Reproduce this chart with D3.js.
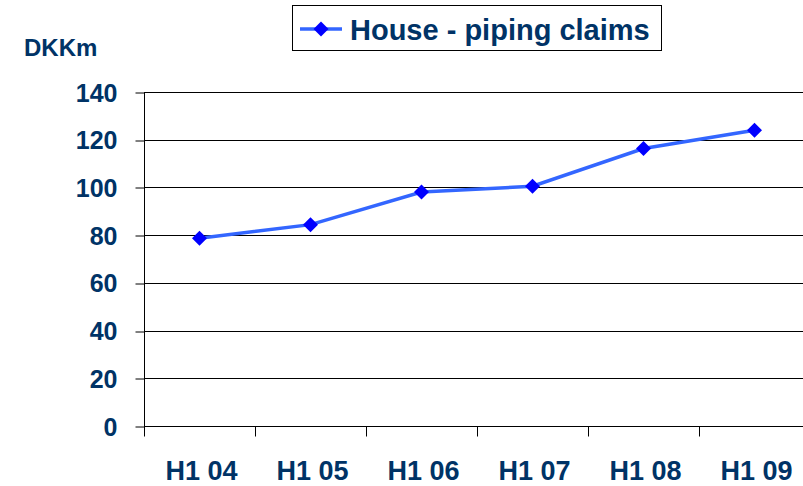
<!DOCTYPE html>
<html>
<head>
<meta charset="utf-8">
<script src="https://cdn.jsdelivr.net/npm/d3@7"></script>
<style>
  html, body { margin: 0; padding: 0; background: #fff; }
  svg { display: block; }
  text { font-family: "Liberation Sans", Arial, sans-serif; font-weight: bold; fill: #003366; }
</style>
</head>
<body>
<svg id="chart" width="803" height="486"></svg>
<script>
const categories = ["H1 04", "H1 05", "H1 06", "H1 07", "H1 08", "H1 09"];
const values = [78.7, 84.4, 98.1, 100.5, 116.3, 124.0];
const yTicks = [0, 20, 40, 60, 80, 100, 120, 140];
const seriesName = "House - piping claims";
const unitLabel = "DKKm";

(function () {
const svg = d3.select("#chart");
const W = 803, H = 486;
const pLeft = 144, pRight = 810, pTop = 92, pBottom = 426;

const x = d3.scaleBand().domain(categories).range([pLeft, pRight]);
const y = d3.scaleLinear().domain([0, 140]).range([pBottom, pTop]);

// gridlines
svg.append("g")
  .selectAll("line")
  .data(yTicks.filter(d => d > 0))
  .join("line")
  .attr("x1", pLeft).attr("x2", W)
  .attr("y1", d => Math.round(y(d)) + 0.5).attr("y2", d => Math.round(y(d)) + 0.5)
  .attr("stroke", "#000").attr("stroke-width", 1);

// y axis
const yAxis = svg.append("g")
  .attr("transform", `translate(${pLeft + 0.5},0)`)
  .call(d3.axisLeft(y).tickValues(yTicks).tickSize(9).tickPadding(18).tickSizeOuter(0));
yAxis.select(".domain").attr("stroke", "#000").attr("d", `M0,${pTop}V${pBottom + 10}`);
yAxis.selectAll(".tick line").attr("stroke", "#000")
  .attr("transform", d => `translate(0,${(Math.round(y(d)) + 0.5) - y(d)})`);
yAxis.selectAll(".tick text")
  .style("font-size", "25px").style("font-family", "Liberation Sans, Arial, sans-serif")
  .style("font-weight", "bold").attr("fill", "#003366").attr("dy", "0.36em");

// x axis
const xAxis = svg.append("g")
  .attr("transform", `translate(0,${Math.round(pBottom) + 0.5})`)
  .call(d3.axisBottom(x).tickSize(0).tickPadding(0).tickFormat(""));
xAxis.select(".domain").attr("stroke", "#000").attr("d", `M${pLeft},0H${W}`);
xAxis.selectAll(".tick").remove();
const boundaries = categories.map(c => x(c)).concat([x(categories[categories.length - 1]) + x.bandwidth()]);
xAxis.selectAll("line.b").data(boundaries).join("line")
  .attr("class", "b")
  .attr("x1", d => Math.round(d) + 0.5).attr("x2", d => Math.round(d) + 0.5)
  .attr("y1", 0).attr("y2", 10).attr("stroke", "#000");
svg.append("g").selectAll("text").data(categories).join("text")
  .attr("x", d => x(d) + x.bandwidth() / 2 + 2)
  .attr("y", 480)
  .attr("text-anchor", "middle")
  .style("font-size", "27px")
  .text(d => d);

// line
const line = d3.line()
  .x((d, i) => x(categories[i]) + x.bandwidth() / 2)
  .y(d => y(d));
svg.append("path")
  .datum(values)
  .attr("d", line)
  .attr("fill", "none")
  .attr("stroke", "#3366FF")
  .attr("stroke-width", 3.5);

// markers
const diamond = (cx, cy, r) => `M${cx},${cy - r}L${cx + r},${cy}L${cx},${cy + r}L${cx - r},${cy}Z`;
svg.append("g").selectAll("path").data(values).join("path")
  .attr("d", (d, i) => diamond(x(categories[i]) + x.bandwidth() / 2, y(d), 7.5))
  .attr("fill", "#0000FF");

// unit label
svg.append("text")
  .attr("x", 24).attr("y", 56)
  .style("font-size", "24px")
  .text(unitLabel);

// legend
const lg = svg.append("g");
lg.append("rect")
  .attr("x", 292.5).attr("y", 5.5).attr("width", 369).attr("height", 45)
  .attr("fill", "#fff").attr("stroke", "#000").attr("stroke-width", 1);
lg.append("line")
  .attr("x1", 300).attr("x2", 342).attr("y1", 29).attr("y2", 29)
  .attr("stroke", "#3366FF").attr("stroke-width", 3.5);
lg.append("path").attr("d", diamond(321, 29, 7.5)).attr("fill", "#0000FF");
lg.append("text")
  .attr("x", 350).attr("y", 40)
  .style("font-size", "29px")
  .text(seriesName);
})();
</script>
</body>
</html>
